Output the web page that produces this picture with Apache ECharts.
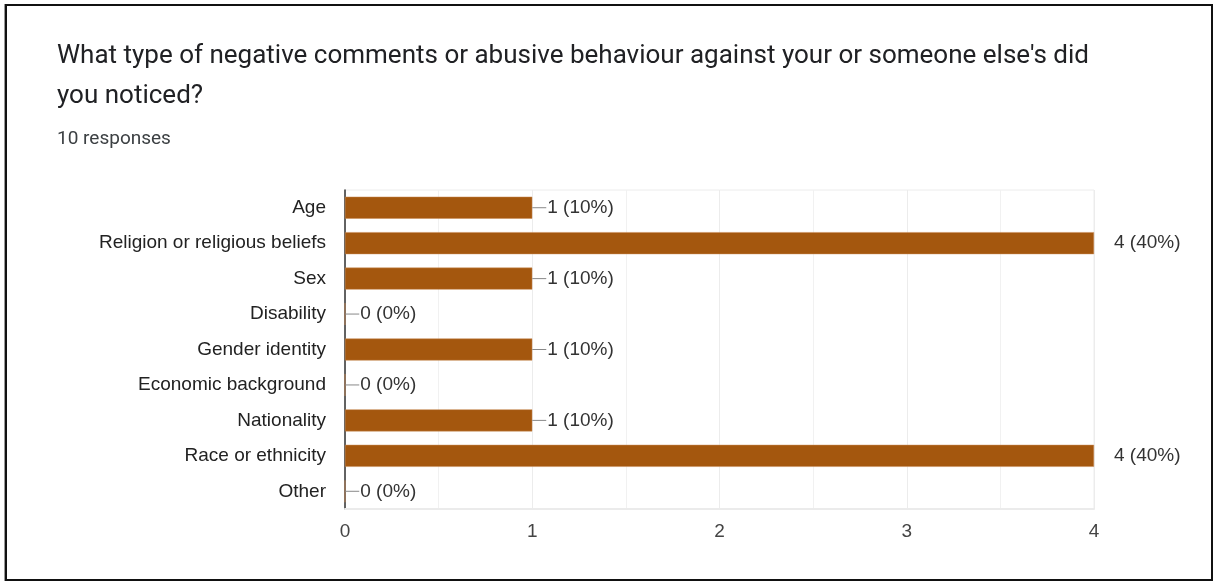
<!DOCTYPE html>
<html>
<head>
<meta charset="utf-8">
<script src="https://cdn.jsdelivr.net/npm/echarts@6/dist/echarts.min.js"></script>
<style>
  html, body { margin: 0; padding: 0; background: #fff; }
  #frame {
    position: absolute; left: 5px; top: 4px; width: 1204px; height: 573px;
    border: 2px solid #111; box-shadow: -1px 0 0 #999;
  }
  #chart { position: absolute; left: 0; top: 0; width: 1214px; height: 581px; }
</style>
</head>
<body>
<div id="frame"></div>
<div id="chart"></div>
<script>
// Survey question, answer options and response counts
const question = "What type of negative comments or abusive behaviour against your or someone else's did\nyou noticed?";
const totalResponses = 10;
const categories = [
  'Age',
  'Religion or religious beliefs',
  'Sex',
  'Disability',
  'Gender identity',
  'Economic background',
  'Nationality',
  'Race or ethnicity',
  'Other'
];
const counts = [1, 4, 1, 0, 1, 0, 1, 4, 0];
const xTicks = [0, 1, 2, 3, 4];

const BAR = '#a4570e';
const FONT = 'Arial, "Liberation Sans", sans-serif';
const axisMax = xTicks[xTicks.length - 1];

const pct = v => Math.round(v / totalResponses * 100) + '%';

const barData = counts.map(v => {
  const atEdge = v >= axisMax;
  return {
    value: v,
    label: atEdge
      ? { position: 'right', distance: 19, formatter: p => '{t|' + p.value + ' (' + pct(p.value) + ')}' }
      : { position: 'right', distance: 0, formatter: p => '{ln| }{t|' + p.value + ' (' + pct(p.value) + ')}' }
  };
});

const chart = echarts.init(document.getElementById('chart'), null, { renderer: 'canvas' });
chart.setOption({
  animation: false,
  title: [
    {
      text: question,
      left: 52, top: 31,
      padding: 5,
      textStyle: { fontFamily: 'Roboto', fontSize: 26, fontWeight: 'normal', color: '#202124', lineHeight: 40 }
    },
    {
      text: totalResponses + ' responses',
      left: 52, top: 123,
      padding: 5,
      textStyle: { fontFamily: 'Roboto', fontSize: 19, fontWeight: 'normal', color: '#3c4043', lineHeight: 22 }
    }
  ],
  grid: { left: 345, right: 120, top: 190, bottom: 72, show: true, borderColor: '#ececec', borderWidth: 1 },
  xAxis: {
    type: 'value', min: 0, max: axisMax, interval: 1,
    axisLine: { show: true, lineStyle: { color: '#ebebeb', width: 2 } },
    axisTick: { show: false },
    axisLabel: { margin: 13, fontFamily: FONT, fontSize: 19, color: '#444' },
    splitLine: { show: true, lineStyle: { color: '#ececec', width: 1 } },
    minorTick: { show: false, splitNumber: 2 },
    minorSplitLine: { show: true, lineStyle: { color: '#f1f1f1', width: 1 } }
  },
  yAxis: {
    type: 'category', data: categories, inverse: true,
    axisLine: { show: true, lineStyle: { color: '#333', width: 1.5 } },
    axisTick: { show: false },
    axisLabel: { margin: 19, fontFamily: FONT, fontSize: 19, color: '#222' }
  },
  series: [{
    type: 'bar',
    data: barData,
    barWidth: 22,
    itemStyle: { color: BAR, borderColor: '#c98a55', borderWidth: 0.5 },
    label: {
      show: true,
      rich: {
        ln: { width: 14, height: 1, backgroundColor: '#888', verticalAlign: 'middle' },
        t: { fontFamily: FONT, fontSize: 19, color: '#333', padding: [0, 0, 0, 1] }
      }
    }
  }]
});
</script>
</body>
</html>
